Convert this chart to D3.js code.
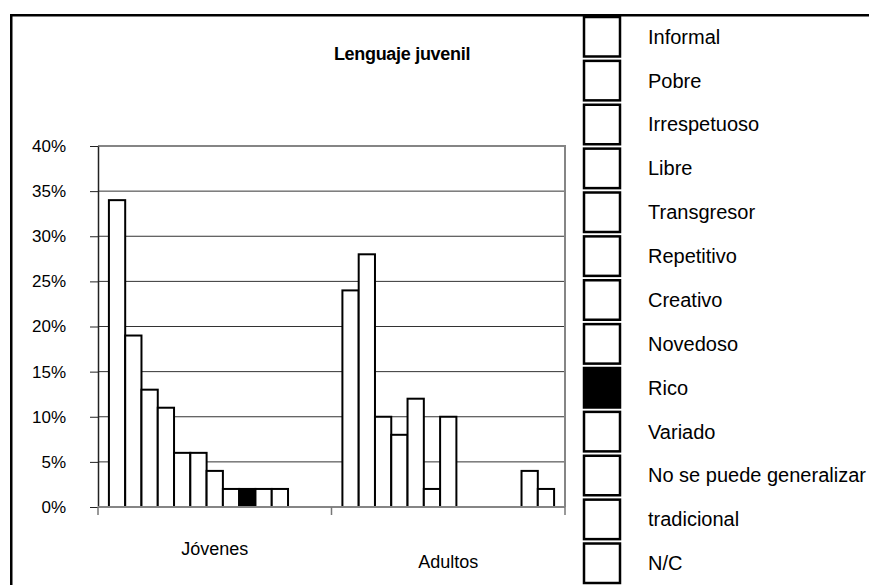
<!DOCTYPE html>
<html>
<head>
<meta charset="utf-8">
<script src="https://cdn.jsdelivr.net/npm/d3@7/dist/d3.min.js"></script>
<style>
body { margin: 0; background: #fff; }
#chart { width: 869px; height: 585px; }
text { font-family: "Liberation Sans", Arial, sans-serif; fill: #000; }
</style>
</head>
<body>
<div id="chart"></div>
<script>
// values (percent)
const CATEGORIES = ["Jóvenes", "Adultos"];
const SERIES = ["Informal", "Pobre", "Irrespetuoso", "Libre", "Transgresor", "Repetitivo",
    "Creativo", "Novedoso", "Rico", "Variado", "No se puede generalizar", "tradicional", "N/C"];
const JOVENES = [34, 19, 13, 11, 6, 6, 4, 2, 2, 2, 2, 0, 0];
const ADULTOS = [24, 28, 10, 8, 12, 2, 10, 0, 0, 0, 0, 4, 2];
const Y_TICKS = [0, 5, 10, 15, 20, 25, 30, 35, 40];
const TITLE = "Lenguaje juvenil";

function LegendBarChart(container_id) {
    this.container = d3.select(container_id);
    this.totalWidth = 869;
    this.totalHeight = 585;
    this.margin = { top: 146, right: 304, bottom: 78, left: 98 };
    this.width = this.totalWidth - this.margin.left - this.margin.right;
    this.height = this.totalHeight - this.margin.top - this.margin.bottom;

    this.root = this.container.append("svg")
        .attr("width", this.totalWidth)
        .attr("height", this.totalHeight);

    this.svg = this.root.append("g")
        .attr("transform", "translate(" + this.margin.left + "," + this.margin.top + ")");
}

LegendBarChart.prototype.init = function() {
    let rows = [];
    CATEGORIES.forEach(function(c, i) {
        let vals = i == 0 ? JOVENES : ADULTOS;
        SERIES.forEach(function(s, j) {
            rows.push({ category: c, series: s, value: vals[j] });
        });
    });
    this.data = rows;
    this.draw();
}

LegendBarChart.prototype.draw = function() {
    let width = this.width;
    let height = this.height;

    let x0 = d3.scaleBand()
        .domain(CATEGORIES)
        .range([0, width])
        .padding(0);

    let x1 = d3.scaleBand()
        .domain(SERIES)
        .range([0, x0.bandwidth()])
        .paddingInner(0)
        .paddingOuter(0.67);

    let y = d3.scaleLinear()
        .domain([0, 40])
        .range([height, 0]);

    let fill = d3.scaleOrdinal()
        .domain(SERIES)
        .range(SERIES.map(s => s == "Rico" ? "#000" : "#fff"));

    // grid lines
    this.svg.append("g")
        .selectAll("line")
        .data(Y_TICKS.filter(d => d > 0))
        .enter().append("line")
        .attr("x1", 0)
        .attr("x2", width)
        .attr("y1", d => y(d))
        .attr("y2", d => y(d))
        .attr("stroke", "#333")
        .attr("stroke-width", 1);

    // plot area border (top + right)
    this.svg.append("path")
        .attr("d", "M0," + y(40) + "H" + width + "V" + height)
        .attr("fill", "none")
        .attr("stroke", "#858585")
        .attr("stroke-width", 2);

    // y axis
    let yAxis = this.svg.append("g")
        .attr("class", "y--axis")
        .call(d3.axisLeft(y)
            .tickValues(Y_TICKS)
            .tickSize(8)
            .tickSizeOuter(0)
            .tickPadding(24)
            .tickFormat(d => d + "%"));
    yAxis.select(".domain").attr("stroke", "#222").attr("stroke-width", 1.5);
    yAxis.selectAll(".tick line").attr("stroke", "#222");
    yAxis.selectAll("text")
        .attr("font-size", 17)
        .attr("font-family", "'Liberation Sans', Arial, sans-serif")
        .attr("fill", "#000");

    // bars
    let groups = this.svg.append("g")
        .selectAll(".cat")
        .data(CATEGORIES)
        .enter().append("g")
        .attr("class", "cat")
        .attr("transform", d => "translate(" + x0(d) + ",0)");

    groups.selectAll(".bar")
        .data(c => this.data.filter(d => d.category == c && d.value > 0))
        .enter().append("rect")
        .attr("class", "bar")
        .attr("x", d => x1(d.series))
        .attr("y", d => y(d.value))
        .attr("width", x1.bandwidth())
        .attr("height", d => height - y(d.value))
        .attr("fill", d => fill(d.series))
        .attr("stroke", "#000")
        .attr("stroke-width", 2);

    // x axis line + category boundary ticks
    this.svg.append("line")
        .attr("x1", 0).attr("x2", width)
        .attr("y1", height).attr("y2", height)
        .attr("stroke", "#858585")
        .attr("stroke-width", 2);

    let bounds = CATEGORIES.map(c => x0(c)).concat([width]);
    this.svg.append("g")
        .selectAll("line")
        .data(bounds)
        .enter().append("line")
        .attr("x1", d => d).attr("x2", d => d)
        .attr("y1", height).attr("y2", height + 8)
        .attr("stroke", "#777")
        .attr("stroke-width", 1.5);

    let xAxis = this.svg.append("g")
        .attr("transform", "translate(0," + height + ")")
        .call(d3.axisBottom(x0).tickSize(0).tickPadding(0));
    xAxis.select(".domain").remove();
    xAxis.selectAll("text")
        .attr("font-size", 18)
        .attr("font-family", "'Liberation Sans', Arial, sans-serif")
        .attr("fill", "#000")
        .attr("dy", null)
        .attr("y", (d, i) => i % 2 == 0 ? 48 : 61);

    // title
    this.root.append("text")
        .attr("x", 402)
        .attr("y", 60)
        .attr("text-anchor", "middle")
        .attr("font-size", 18)
        .attr("font-weight", "bold")
        .attr("letter-spacing", -0.3)
        .text(TITLE);

    this.drawLegend(fill);

    // outer frame (cut off on right and bottom)
    this.root.append("rect")
        .attr("x", 11.25)
        .attr("y", 15.25)
        .attr("width", 1000)
        .attr("height", 1000)
        .attr("fill", "none")
        .attr("stroke", "#000")
        .attr("stroke-width", 2.5);
}

LegendBarChart.prototype.drawLegend = function(fill) {
    let ly = d3.scaleBand()
        .domain(SERIES)
        .range([17, 583])
        .paddingInner(0.1)
        .paddingOuter(0);

    let legend = this.root.append("g")
        .attr("class", "legend")
        .selectAll("g")
        .data(SERIES)
        .enter().append("g")
        .attr("transform", d => "translate(584," + ly(d) + ")");

    legend.append("rect")
        .attr("width", 36)
        .attr("height", ly.bandwidth())
        .attr("fill", d => fill(d))
        .attr("stroke", "#000")
        .attr("stroke-width", 2.5);

    legend.append("text")
        .attr("x", 64)
        .attr("y", ly.bandwidth() / 2)
        .attr("dy", "0.35em")
        .attr("font-size", 20)
        .text(d => d);
}

let chart = new LegendBarChart("#chart");
chart.init();
</script>
</body>
</html>
